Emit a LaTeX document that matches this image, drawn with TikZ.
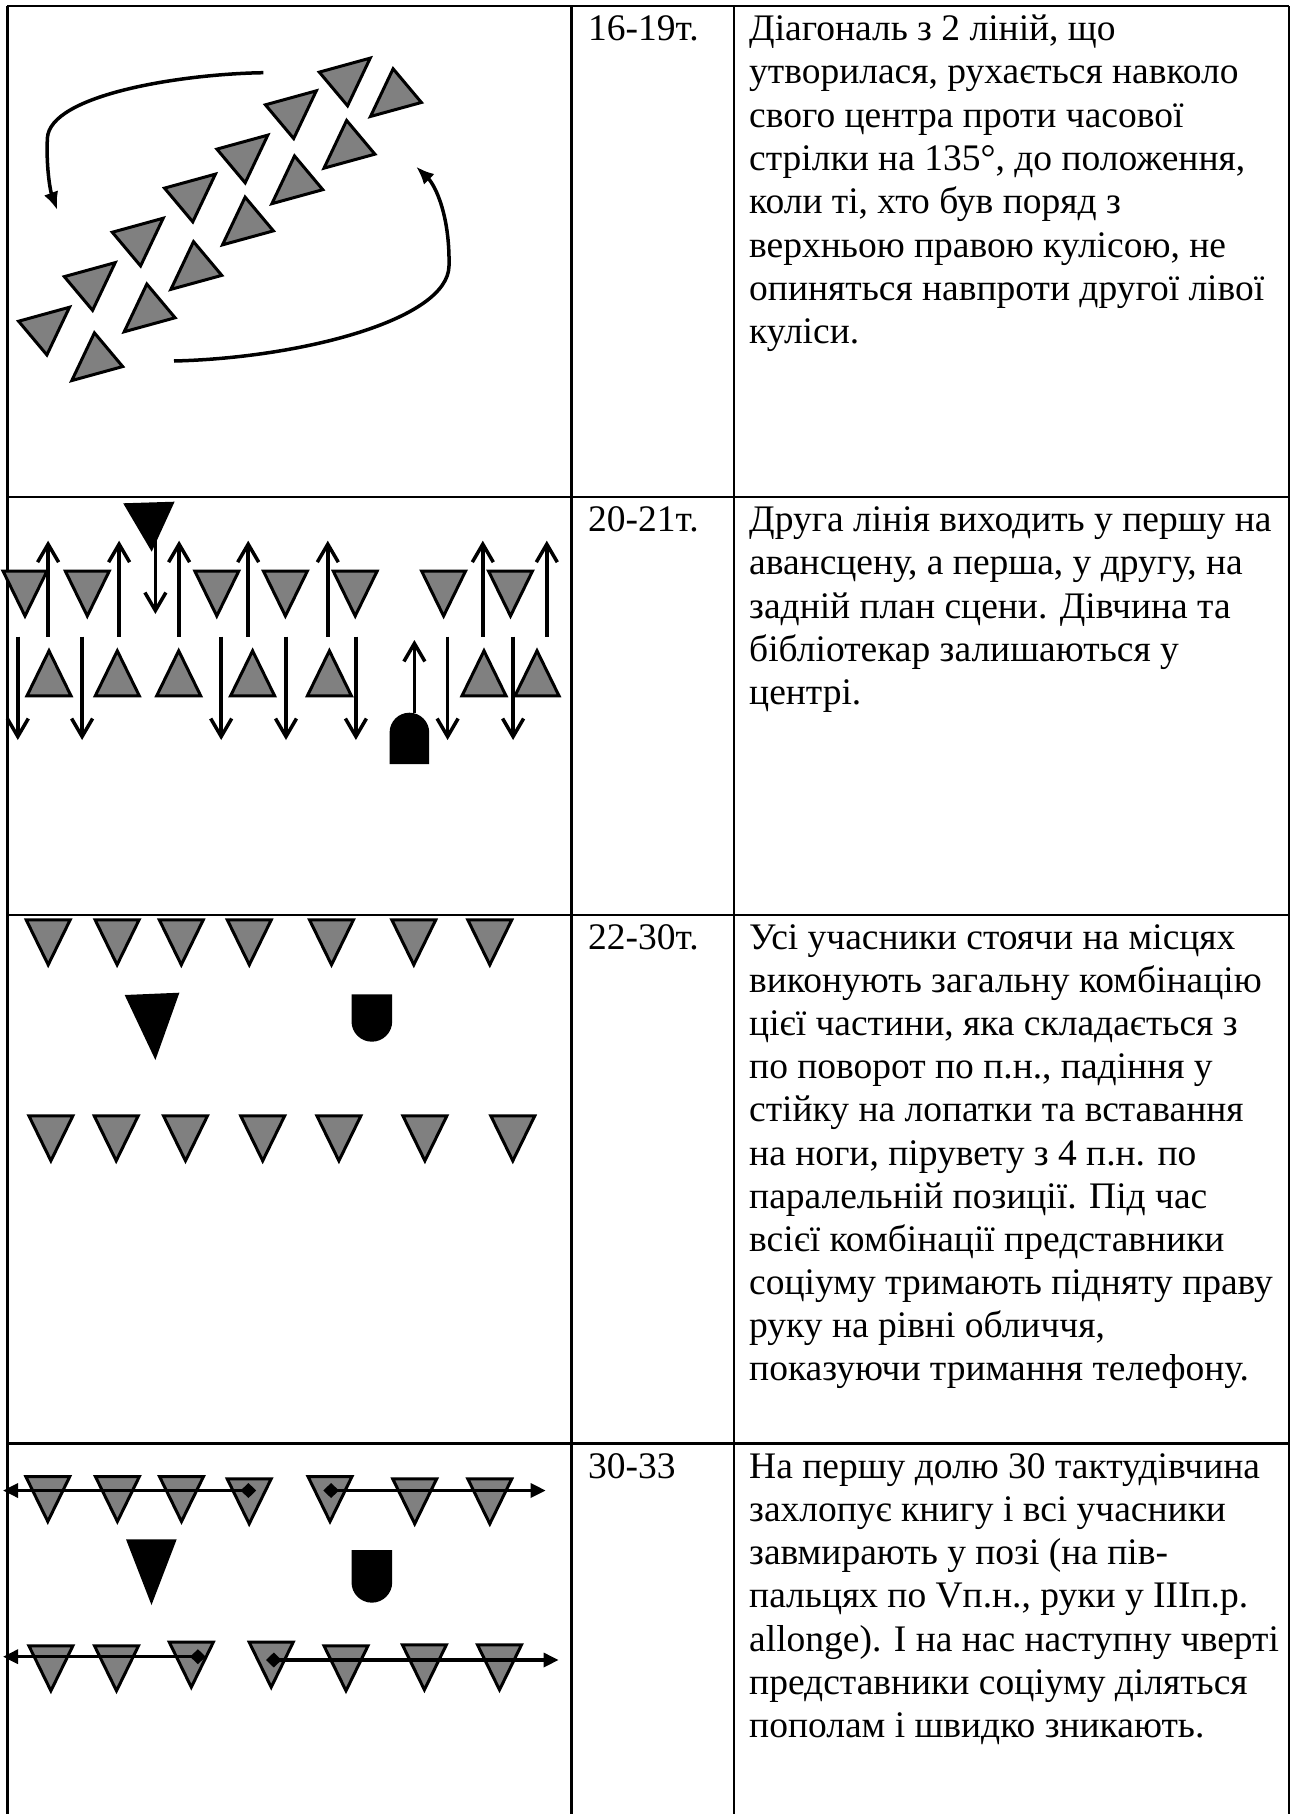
\documentclass[tikz,border=0pt]{standalone}
\usepackage{fontspec}
\setmainfont{Liberation Serif}
\usetikzlibrary{arrows.meta,shapes.geometric}
\definecolor{figgray}{RGB}{128,128,128}
\tikzset{
  tri/.style={draw=black, fill=figgray, line width=3pt, line join=miter},
  grid/.style={draw=black, line width=2.7pt},
  curv/.style={line width=3.5pt, -{Latex[length=18pt,width=15pt]}},
  barb/.style={line width=3.5pt, -{Straight Barb[length=18pt,width=21pt]}},
  flat/.style={line width=3.3pt, -{Triangle[length=15pt,width=14pt]}},
  txt/.style={anchor=base west, inner sep=0pt, font=\fontsize{37.5}{43.3}\selectfont},
}
\newcommand{\DnTri}[2]{\draw[tri] (#1-22,#2) -- (#1+22,#2) -- (#1,#2+45) -- cycle;}
\newcommand{\UpTri}[2]{\draw[tri] (#1-22,#2) -- (#1+22,#2) -- (#1,#2-45) -- cycle;}
\newcommand{\RotTri}[3]{\draw[tri,shift={(#1,#2)},rotate=#3] (-22,-16) -- (22,-16) -- (0,32) -- cycle;}
\newcommand{\Dia}[2]{\fill[black] (#1-7.8,#2) -- (#1,#2-7.5) -- (#1+7.8,#2) -- (#1,#2+7.5) -- cycle;}
\begin{document}
\begin{tikzpicture}[x=1pt,y=-1pt]
\useasboundingbox (0,0) rectangle (1293,1814);
% ---------- table grid ----------
\draw[grid] (7.4,6) -- (1289,6);
\draw[grid] (7.4,497) -- (1289,497);
\draw[grid] (7.4,915) -- (1289,915);
\draw[grid] (7.4,1443.5) -- (1289,1443.5);
\draw[grid] (7.4,6) -- (7.4,1814);
\draw[grid] (571.6,6) -- (571.6,1814);
\draw[grid] (734,6) -- (734,1814);
\draw[grid] (1289,6) -- (1289,1814);

% ---------- row 1: rotating diagonal ----------
\foreach \cx/\cy in {45/327.8, 90.7/283.2, 138.7/238.8, 190.9/194.7, 243.3/155.7, 291.8/111.4, 345.7/78.7}
  {\RotTri{\cx}{\cy}{130}}
\foreach \cx/\cy in {96.3/360, 148.7/311.2, 195.4/268.8, 247/224.3, 296.4/183.1, 348.5/147.6, 395/95.9}
  {\RotTri{\cx}{\cy}{-50}}
\coordinate (a1s) at (263.4,72.7);
\coordinate (a1e) at (57.3,210);
\coordinate (a2s) at (174,361);
\coordinate (a2e) at (416.2,166.7);
\draw[curv] (a1s) .. controls (180,74) and (50,95) .. (47.4,138) .. controls (46,165) and (50,190) .. (a1e);
\draw[curv] (a2s) .. controls (300,358) and (448,320) .. (449,266) .. controls (450,215) and (435,185) .. (a2e);

% ---------- row 2: lines swap ----------
\foreach \cx in {25, 87.3, 216.8, 285.4, 355.2, 443.6, 510.5} {\DnTri{\cx}{571}}
\foreach \cx in {49, 117.3, 178.7, 252.6, 329.4, 484, 537} {\UpTri{\cx}{695.8}}
\fill[black] (123.2,503.3) -- (174.6,501.7) -- (151.7,551.7) -- cycle;
\fill[black] (389.6,764) -- (389.6,732.5) arc[start angle=180,end angle=360,radius=19.8] -- (429.2,764) -- cycle;
\foreach \x in {48.1, 119.1, 179.1, 248.2, 327.8, 482.8, 546.8}
  {\draw[barb] (\x,636.7) -- (\x,540.7);}
\foreach \x in {17.8, 82.1, 221.2, 286, 355.9, 447.6, 513.1}
  {\draw[barb] (\x,636.7) -- (\x,740);}
\draw[barb] (155.4,536) -- (155.4,614);
\draw[barb] (414.4,712.7) -- (414.4,640);

% ---------- row 3: combination ----------
\foreach \cx in {48.2, 117.1, 181.3, 249.3, 331.5, 413.8, 489.8} {\DnTri{\cx}{919.8}}
\foreach \cx in {50.9, 116.2, 185.5, 262.7, 338.9, 424.9, 512.8} {\DnTri{\cx}{1115.8}}
\fill[black] (124.7,995) -- (179.4,992.7) -- (155.4,1060) -- cycle;
\fill[black] (351.5,994.3) -- (392.2,994.3) -- (392.2,1021.35) arc[start angle=0,end angle=180,radius=20.35] -- cycle;

% ---------- row 4: freeze and split ----------
\DnTri{47.8}{1476.5}
\DnTri{117.4}{1476.5}
\DnTri{181.5}{1476.5}
\DnTri{249.2}{1478.8}
\DnTri{330}{1476.5}
\DnTri{414.7}{1478.8}
\DnTri{489.8}{1478.8}
\DnTri{50.9}{1645.8}
\DnTri{116.5}{1645.8}
\DnTri{191.3}{1642.2}
\DnTri{271.2}{1642.2}
\DnTri{346}{1645.8}
\DnTri{424.4}{1644.8}
\DnTri{499.5}{1644.8}
\fill[black] (126,1539.3) -- (176.7,1539.3) -- (151.5,1605) -- cycle;
\fill[black] (351.5,1550) -- (392.2,1550) -- (392.2,1582.3) arc[start angle=0,end angle=180,radius=20.35] -- cycle;
\coordinate (d1) at (248.4,1490.5);
\coordinate (d2) at (331.1,1490.5);
\coordinate (d3) at (197.9,1656.7);
\coordinate (d4) at (273.8,1660);
\coordinate (e1) at (3,1490.5);
\coordinate (e2) at (545.7,1490.5);
\coordinate (e3) at (3,1656.7);
\coordinate (e4) at (558.6,1660);
\draw[flat] (d1) -- (e1);
\draw[flat] (d2) -- (e2);
\draw[flat] (d3) -- (e3);
\draw[flat] (d4) -- (e4);
\Dia{248.4}{1490.5}
\Dia{331.1}{1490.5}
\Dia{197.9}{1656.7}
\Dia{273.8}{1660}

% ---------- texts ----------
\node[txt] (b1) at (588,40.5) {16-19т.};
\node[txt] (b2) at (588,531.5) {20-21т.};
\node[txt] (b3) at (588,949.5) {22-30т.};
\node[txt] (b4) at (588,1478) {30-33};
\foreach \myline [count=\i from 0] in {%
  {Діагональ з 2 ліній, що},
  {утворилася, рухається навколо},
  {свого центра проти часової},
  {стрілки на 135°, до положення,},
  {коли ті, хто був поряд з},
  {верхньою правою кулісою, не},
  {опиняться навпроти другої лівої},
  {куліси.}}
  {\node[txt] (ra\i) at (749,40.5+43.3*\i) {\myline};}
\foreach \myline [count=\i from 0] in {%
  {Друга лінія виходить у першу на},
  {авансцену, а перша, у другу, на},
  {задній план сцени. Дівчина та},
  {бібліотекар залишаються у},
  {центрі.}}
  {\node[txt] (rb\i) at (749,531.5+43.3*\i) {\myline};}
\foreach \myline [count=\i from 0] in {%
  {Усі учасники стоячи на місцях},
  {виконують загальну комбінацію},
  {цієї частини, яка складається з},
  {по поворот по п.н., падіння у},
  {стійку на лопатки та вставання},
  {на ноги, пірувету з 4 п.н. по},
  {паралельній позиції. Під час},
  {всієї комбінації представники},
  {соціуму тримають підняту праву},
  {руку на рівні обличчя,},
  {показуючи тримання телефону.}}
  {\node[txt] (rc\i) at (749,949.5+43.1*\i) {\myline};}
\foreach \myline [count=\i from 0] in {%
  {На першу долю 30 тактудівчина},
  {захлопує книгу і всі учасники},
  {завмирають у позі (на пів-},
  {пальцях по Vп.н., руки у IIIп.р.},
  {allonge). І на нас наступну чверті},
  {представники соціуму діляться},
  {пополам і швидко зникають.}}
  {\node[txt] (rd\i) at (749,1478+43.3*\i) {\myline};}
\end{tikzpicture}
\end{document}
